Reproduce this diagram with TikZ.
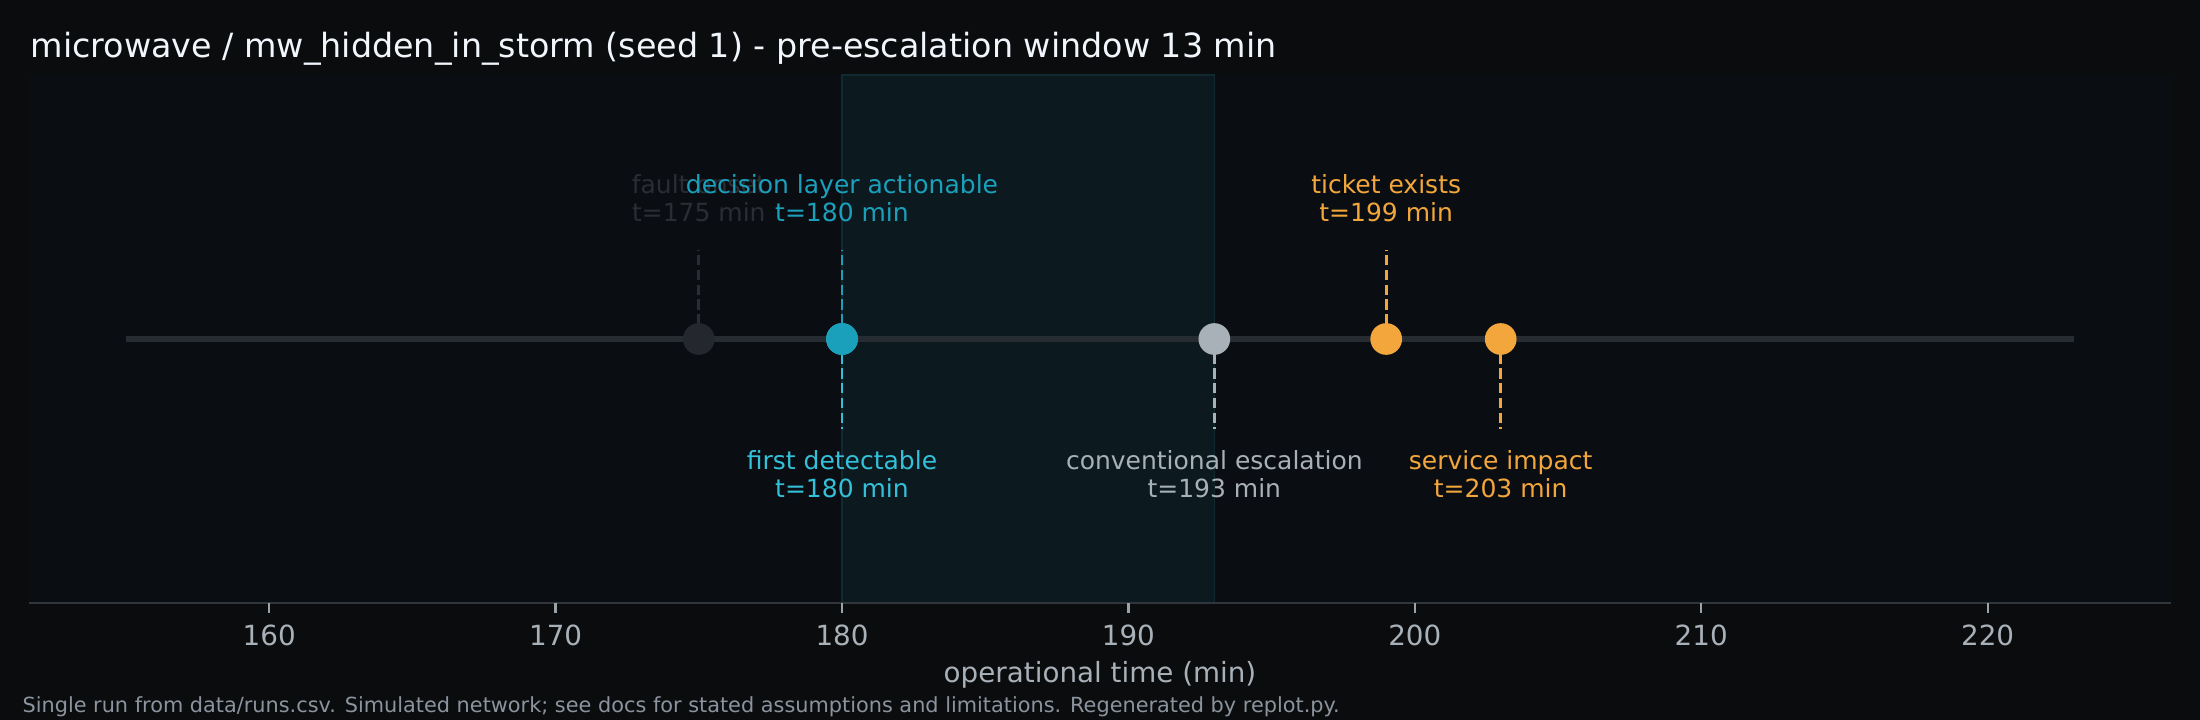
\documentclass[tikz,border=0pt]{standalone}
\usepackage{fontspec}
\setmainfont{DejaVu Sans}
\definecolor{figbg}{HTML}{0B0C0E}
\definecolor{axbg}{HTML}{0A0E12}
\definecolor{winfill}{HTML}{0C1A1F}
\definecolor{winedge}{HTML}{112A31}
\definecolor{tline}{HTML}{272B32}
\definecolor{faultc}{HTML}{2A2E34}
\definecolor{faultm}{HTML}{24272D}
\definecolor{decc}{HTML}{1BA0BC}
\definecolor{detc}{HTML}{33C0D8}
\definecolor{convc}{HTML}{A8B0B8}
\definecolor{orc}{HTML}{F2A63B}
\definecolor{spinec}{HTML}{30363D}
\definecolor{tickc}{HTML}{9AA2AA}
\definecolor{ticklbl}{HTML}{A8B0B8}
\definecolor{footc}{HTML}{8B949E}
\definecolor{titlec}{HTML}{F0F6FC}
\tikzset{
  lbl/.style={anchor=base, inner sep=0pt, font=\fontsize{9}{10.8}\selectfont},
  stem/.style={line width=1pt, dash pattern=on 3.7pt off 1.6pt},
  marker/.style={circle, inner sep=0pt, minimum size=11.4pt, draw=none},
}
\begin{document}
\begin{tikzpicture}[x=0.36pt,y=-0.36pt]
\useasboundingbox (0,0) rectangle (2200,720);
\fill[figbg] (0,0) rectangle (2200,720);
\fill[axbg] (29,75) rectangle (2171,602.7);
% pre-escalation window
\fill[winfill] (842,75) rectangle (1214.3,602.7);
\draw[winedge, line width=0.5pt] (842,602.7) -- (842,75) -- (1214.3,75) -- (1214.3,602.7);
% spine and ticks
\draw[spinec, line width=0.8pt] (29,602.7) -- (2171,602.7);
\foreach \t in {160,170,...,220} {
  \pgfmathsetmacro\xx{842+(\t-180)*28.64}
  \draw[tickc, line width=0.8pt] (\xx,602.7) -- (\xx,612.7);
  \node[anchor=base, inner sep=0pt, font=\fontsize{10}{12}\selectfont, text=ticklbl] (tick\t) at (\xx,645) {\t};
}
\node[anchor=base, inner sep=0pt, font=\fontsize{10}{12}\selectfont, text=ticklbl] (xlabel) at (1100,682) {operational time (min)};
% title and footer
\node[anchor=base west, inner sep=0pt, font=\fontsize{12}{14.4}\selectfont, text=titlec] (title) at (30,58) {microwave / mw\_hidden\_in\_storm (seed 1) - pre-escalation window 13 min};
\node[anchor=base west, inner sep=0pt, font=\fontsize{7.5}{9}\selectfont, text=footc] (footer) at (22,712) {Single run from data/runs.csv. Simulated network; see docs for stated assumptions and limitations. Regenerated by replot.py.};
% timeline
\coordinate (tl0) at (126,339);
\coordinate (tl1) at (2073.5,339);
\draw[tline, line width=2.16pt] (tl0) -- (tl1);
% event positions
\coordinate (p175) at (698.8,339);
\coordinate (p180) at (842,339);
\coordinate (p193) at (1214.3,339);
\coordinate (p199) at (1386.2,339);
\coordinate (p203) at (1500.7,339);
\coordinate (u175) at (698.8,250);
\coordinate (u180) at (842,250);
\coordinate (d180) at (842,429);
\coordinate (d193) at (1214.3,429);
\coordinate (u199) at (1386.2,250);
\coordinate (d203) at (1500.7,429);
% stems
\draw[stem, faultc] (p175) -- (u175);
\draw[stem, detc] (p180) -- (d180);
\draw[stem, decc] (p180) -- (u180);
\draw[stem, convc] (p193) -- (d193);
\draw[stem, orc] (p199) -- (u199);
\draw[stem, orc] (p203) -- (d203);
% markers
\node[marker, fill=faultm] (m175) at (p175) {};
\node[marker, fill=detc] (m180a) at (p180) {};
\node[marker, fill=decc] (m180b) at (p180) {};
\node[marker, fill=convc] (m193) at (p193) {};
\node[marker, fill=orc] (m199) at (p199) {};
\node[marker, fill=orc] (m203) at (p203) {};
% labels above
\node[lbl, text=faultc] (f1) at (698.8,194) {fault onset};
\node[lbl, text=faultc] (f2) at (698.8,222) {t=175 min};
\node[lbl, text=decc] (dl1) at (842,194) {decision layer actionable};
\node[lbl, text=decc] (dl2) at (842,222) {t=180 min};
\node[lbl, text=orc] (tk1) at (1386.2,194) {ticket exists};
\node[lbl, text=orc] (tk2) at (1386.2,222) {t=199 min};
% labels below
\node[lbl, text=detc] (fd1) at (842,469) {first detectable};
\node[lbl, text=detc] (fd2) at (842,497) {t=180 min};
\node[lbl, text=convc] (ce1) at (1214.3,469) {conventional escalation};
\node[lbl, text=convc] (ce2) at (1214.3,497) {t=193 min};
\node[lbl, text=orc] (si1) at (1500.7,469) {service impact};
\node[lbl, text=orc] (si2) at (1500.7,497) {t=203 min};
\end{tikzpicture}
\end{document}
